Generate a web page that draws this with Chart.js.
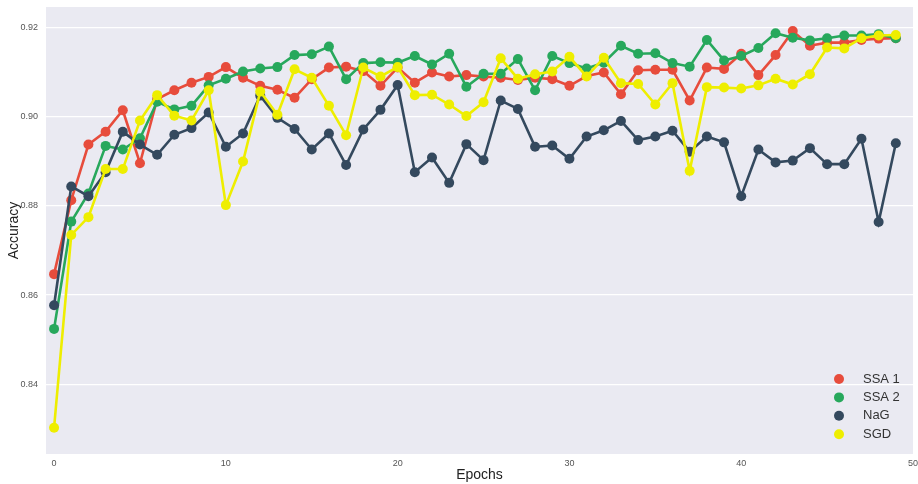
<!DOCTYPE html>
<html>
<head>
<meta charset="utf-8">
<script src="https://cdn.jsdelivr.net/npm/chart.js@4.4.1/dist/chart.umd.min.js"></script>
<style>
  html, body { margin: 0; padding: 0; background: #fff; }
  #wrap { width: 918px; height: 484px; position: relative; }
</style>
</head>
<body>
<div id="wrap"><canvas id="chart" width="918" height="484"></canvas></div>
<script>
const epochs = Array.from({ length: 50 }, (_, i) => i);
const yTicks = [0.84, 0.86, 0.88, 0.90, 0.92];
const xTicks = [0, 10, 20, 30, 40, 50];

const seriesNames = ["SSA 1", "SSA 2", "NaG", "SGD"];
const seriesColors = ["#e74c3c", "#27a85c", "#34495e", "#eeee00"];

const ssa1 = [0.8647, 0.8813, 0.8938, 0.8967, 0.9015, 0.8896, 0.9040, 0.9060, 0.9077, 0.9090,
              0.9112, 0.9088, 0.9070, 0.9061, 0.9043, 0.9085, 0.9111, 0.9113, 0.9103, 0.9070,
              0.9111, 0.9077, 0.9100, 0.9091, 0.9094, 0.9091, 0.9088, 0.9083, 0.9088, 0.9085,
              0.9070, 0.9092, 0.9100, 0.9051, 0.9105, 0.9106, 0.9106, 0.9037, 0.9111, 0.9108,
              0.9142, 0.9094, 0.9139, 0.9193, 0.9160, 0.9167, 0.9167, 0.9173, 0.9176, 0.9177];
const ssa2 = [0.8524, 0.8765, 0.8828, 0.8935, 0.8927, 0.8952, 0.9034, 0.9017, 0.9025, 0.9071,
              0.9086, 0.9102, 0.9109, 0.9112, 0.9139, 0.9141, 0.9158, 0.9085, 0.9121, 0.9123,
              0.9122, 0.9137, 0.9118, 0.9142, 0.9068, 0.9097, 0.9097, 0.9130, 0.9060, 0.9137,
              0.9121, 0.9109, 0.9122, 0.9160, 0.9142, 0.9143, 0.9121, 0.9113, 0.9173, 0.9127,
              0.9137, 0.9155, 0.9188, 0.9178, 0.9172, 0.9177, 0.9183, 0.9183, 0.9186, 0.9177];
const nag  = [0.8577, 0.8844, 0.8822, 0.8876, 0.8967, 0.8938, 0.8915, 0.8960, 0.8975, 0.9010,
              0.8933, 0.8963, 0.9048, 0.8998, 0.8973, 0.8927, 0.8963, 0.8892, 0.8972, 0.9016,
              0.9072, 0.8876, 0.8909, 0.8852, 0.8939, 0.8903, 0.9037, 0.9018, 0.8933, 0.8936,
              0.8906, 0.8956, 0.8970, 0.8991, 0.8948, 0.8956, 0.8969, 0.8922, 0.8956, 0.8943,
              0.8822, 0.8927, 0.8898, 0.8902, 0.8930, 0.8894, 0.8894, 0.8951, 0.8764, 0.8941];
const sgd  = [0.8302, 0.8735, 0.8775, 0.8883, 0.8883, 0.8992, 0.9049, 0.9003, 0.8992, 0.9060,
              0.8802, 0.8900, 0.9057, 0.9005, 0.9107, 0.9088, 0.9025, 0.8959, 0.9111, 0.9091,
              0.9112, 0.9049, 0.9050, 0.9028, 0.9002, 0.9033, 0.9132, 0.9086, 0.9096, 0.9102,
              0.9135, 0.9091, 0.9133, 0.9076, 0.9074, 0.9028, 0.9076, 0.8879, 0.9067, 0.9066,
              0.9064, 0.9071, 0.9086, 0.9073, 0.9096, 0.9156, 0.9154, 0.9177, 0.9183, 0.9184];

const seriesValues = [ssa1, ssa2, nag, sgd];

const plotBg = {
  id: "plotBg",
  beforeDraw(chart) {
    const { ctx, chartArea: a } = chart;
    ctx.save();
    ctx.fillStyle = "#eaeaf2";
    ctx.fillRect(a.left, a.top, a.right - a.left, a.bottom - a.top);
    ctx.restore();
  }
};

// legend drawn inside the plot, bottom right
const innerLegend = {
  id: "innerLegend",
  afterDraw(chart) {
    const { ctx, chartArea: a } = chart;
    ctx.save();
    ctx.font = "13px 'Liberation Sans', Arial, sans-serif";
    ctx.textBaseline = "middle";
    seriesNames.forEach((name, i) => {
      const y = a.bottom - 75 + i * 18.4;
      ctx.beginPath();
      ctx.arc(a.right - 74, y, 5, 0, Math.PI * 2);
      ctx.fillStyle = seriesColors[i];
      ctx.fill();
      ctx.fillStyle = "#333";
      ctx.fillText(name, a.right - 50, y);
    });
    ctx.restore();
  }
};

// drop the automatic label overhang padding so the plot fills like the reference
const noOverhang = s => {
  s.paddingTop = 0;
  s.paddingBottom = 0;
  s.paddingLeft = 0;
  s.paddingRight = 0;
};

const datasets = seriesNames.map((name, i) => ({
  label: name,
  data: epochs.map((e, j) => ({ x: e, y: seriesValues[i][j] })),
  borderColor: seriesColors[i],
  backgroundColor: seriesColors[i],
  borderWidth: 2.6,
  pointRadius: 5,
  pointHoverRadius: 5,
  pointBorderWidth: 0,
  tension: 0,
  order: seriesNames.length - 1 - i
}));

new Chart(document.getElementById("chart"), {
  type: "line",
  data: { datasets },
  options: {
    responsive: false,
    animation: false,
    layout: { padding: { top: 7, right: 5, left: 0, bottom: 0 } },
    plugins: { legend: { display: false }, tooltip: { enabled: false } },
    scales: {
      x: {
        type: "linear",
        min: -0.47,
        max: 50,
        afterBuildTicks: s => { s.ticks = xTicks.map(v => ({ value: v })); },
        afterFit: s => { s.height = 30; noOverhang(s); },
        grid: { display: false, drawTicks: false },
        border: { display: false },
        ticks: { color: "#555", font: { size: 9, family: "'Liberation Sans', Arial" }, padding: 4, maxRotation: 0 },
        title: { display: true, text: "Epochs", color: "#222", font: { size: 14, family: "'Liberation Sans', Arial" }, padding: { top: 0, bottom: 0 } }
      },
      y: {
        min: 0.8243,
        max: 0.9247,
        afterBuildTicks: s => { s.ticks = yTicks.map(v => ({ value: v })); },
        afterFit: s => { s.width = 46; noOverhang(s); },
        grid: { color: "#ffffff", lineWidth: 1.2, drawTicks: false },
        border: { display: false },
        ticks: { color: "#555", font: { size: 9, family: "'Liberation Sans', Arial" }, padding: 8, callback: v => v.toFixed(2) },
        title: { display: true, text: "Accuracy", color: "#222", font: { size: 14, family: "'Liberation Sans', Arial" }, padding: { top: 6, bottom: 0 } }
      }
    }
  },
  plugins: [plotBg, innerLegend]
});
</script>
</body>
</html>
